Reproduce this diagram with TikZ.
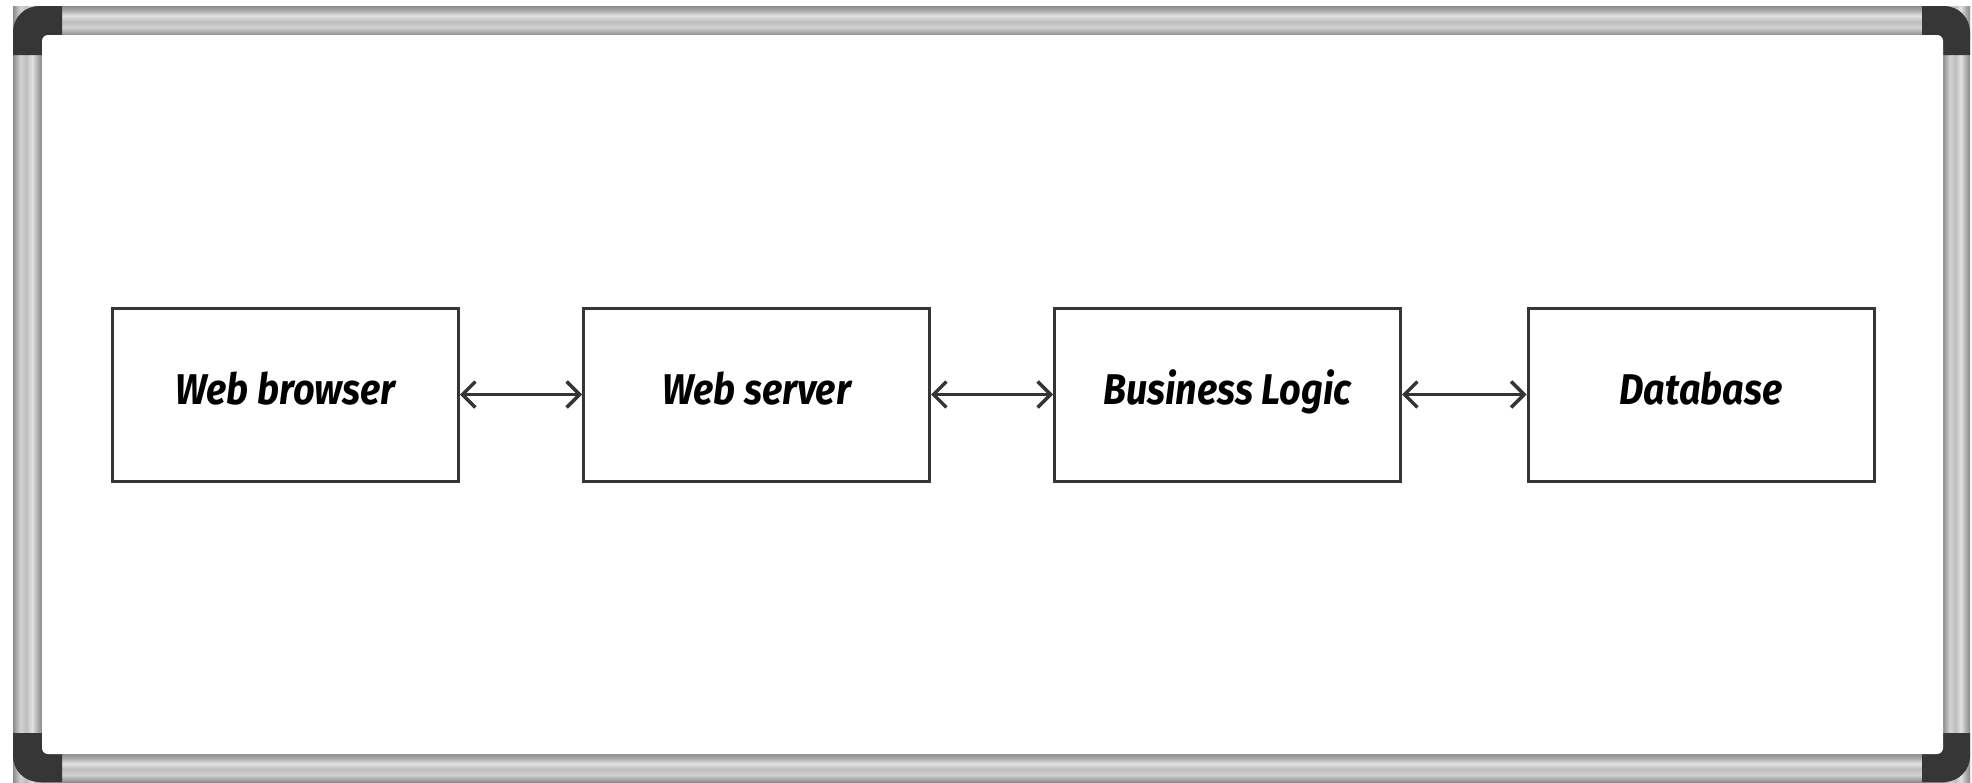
\documentclass[tikz,border=0pt]{standalone}
\usepackage{fontspec}
\usetikzlibrary{arrows.meta}
\newfontfamily\handfont[FakeStretch=0.88]{Fira Sans}

\definecolor{barA}{HTML}{8A8A8A}
\definecolor{barB}{HTML}{A8A8A8}
\definecolor{barC}{HTML}{D2D2D2}
\definecolor{barD}{HTML}{BDBDBD}
\definecolor{barE}{HTML}{E2E2E2}
\definecolor{cornerdark}{HTML}{363636}
\definecolor{inkline}{HTML}{353535}

% metal rails of the board: stops kept inside 25bp..75bp
\pgfdeclareverticalshading{railH}{100bp}{%
  color(0bp)=(barA); color(25bp)=(barA); color(30bp)=(barB); color(38bp)=(barC);
  color(48bp)=(barD); color(58bp)=(barE); color(68bp)=(barB); color(75bp)=(barA);
  color(100bp)=(barA)}
\pgfdeclarehorizontalshading{railV}{100bp}{%
  color(0bp)=(barA); color(25bp)=(barA); color(30bp)=(barB); color(38bp)=(barC);
  color(48bp)=(barD); color(58bp)=(barE); color(68bp)=(barB); color(75bp)=(barA);
  color(100bp)=(barA)}

\tikzset{
  stage/.style={draw=inkline, line width=3pt, fill=white,
    minimum width=346pt, minimum height=173pt, inner sep=0pt,
    text height=30pt, text depth=10pt,
    font=\handfont\bfseries\itshape\fontsize{43}{50}\selectfont},
  link/.style={draw=inkline, line width=3.4pt,
    {Straight Barb[length=13pt,width=26pt]}-{Straight Barb[length=13pt,width=26pt]}},
  railh/.style={shading=railH},
  railv/.style={shading=railV},
  corner/.style={fill=cornerdark},
}

\begin{document}
\begin{tikzpicture}[x=1pt,y=-1pt]
\useasboundingbox (0,0) rectangle (1972,782);
\fill[white] (0,0) rectangle (1972,782);

% rails
\path[railh] (13,6) rectangle (1970,35);
\path[railh] (13,754) rectangle (1970,782);
\path[railv] (13,6) rectangle (42,782);
\path[railv] (1943,6) rectangle (1970,782);

% corner caps (y axis points down here, so angles run the other way)
\fill[corner] (13,55) -- (13,32) arc[start angle=180, end angle=270, radius=26] -- (62,6) -- (62,55) -- cycle;
\fill[corner] (1970,55) -- (1970,32) arc[start angle=0, end angle=-90, radius=26] -- (1922,6) -- (1922,55) -- cycle;
\fill[corner] (13,733) -- (13,756) arc[start angle=180, end angle=90, radius=26] -- (62,782) -- (62,733) -- cycle;
\fill[corner] (1970,733) -- (1970,756) arc[start angle=0, end angle=90, radius=26] -- (1922,782) -- (1922,733) -- cycle;

% writing surface
\fill[white, rounded corners=6pt] (42,35) rectangle (1943,754);

% components
\node[stage] (browser)  at (285.5,394.5) {Web browser};
\node[stage] (server)   at (756.5,394.5) {Web server};
\node[stage] (logic)    at (1227.5,394.5) {Business Logic};
\node[stage] (database) at (1701,394.5) {Database};

% connections
\draw[link] (browser.east) -- (server.west);
\draw[link] (server.east) -- (logic.west);
\draw[link] (logic.east) -- (database.west);
\end{tikzpicture}
\end{document}
